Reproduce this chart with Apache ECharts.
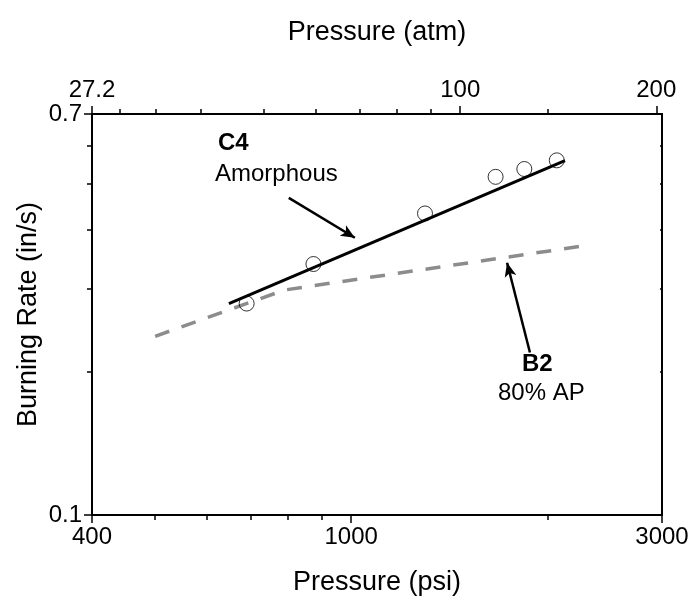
<!DOCTYPE html>
<html>
<head>
<meta charset="utf-8">
<script src="https://cdn.jsdelivr.net/npm/echarts@6/dist/echarts.min.js"></script>
<style>
  html, body { margin: 0; padding: 0; background: #fff; }
  #main { width: 693px; height: 607px; }
</style>
</head>
<body>
<div id="main"></div>
<script>
// C4 amorphous: measured points (psi, in/s)
var c4Psi = [691, 875, 1298, 1666, 1844, 2068];
var c4Rate = [0.279, 0.338, 0.432, 0.516, 0.536, 0.559];
// C4 fit line ends
var fitPsi = [649, 2129];
var fitRate = [0.279, 0.558];
// B2 80% AP dashed curve
var b2Psi = [500, 790, 2300];
var b2Rate = [0.238, 0.298, 0.37];

// axis ticks
var psiMajor = [400, 1000, 3000];
var psiMinor = [500, 600, 700, 800, 900, 2000];
var atmMajor = [27.2, 100, 200];
var atmMinor = [30, 34.02, 40, 50, 60, 70, 80, 90, 136.1];
var rateMajor = [0.1, 0.7];
var rateMinor = [0.2, 0.3, 0.4, 0.5, 0.6];

// top axis range = bottom range in atm
var atmMin = 27.2, atmMax = 204.1;

function zip(a, b) {
  return a.map(function (v, i) { return [v, b[i]]; });
}

var myChart = echarts.init(document.getElementById("main"));

var font = "Liberation Sans, Arial, sans-serif";
var lineBlack = { show: true, lineStyle: { color: "#000", width: 2 } };
var tickStyle = { color: "#000", width: 1.5 };
var labelStyle = { fontSize: 24, color: "#000", fontFamily: font };
var nameStyle = { fontSize: 27, color: "#000", fontFamily: font };

var option = {
  animation: false,
  grid: { left: 92, right: 31, top: 114, bottom: 92 },
  xAxis: [
    {
      // bottom, major ticks + labels
      type: "log", position: "bottom", min: 400, max: 3000,
      axisLine: lineBlack,
      splitLine: { show: false },
      axisTick: { show: true, length: 8, customValues: psiMajor, lineStyle: tickStyle },
      axisLabel: Object.assign({ customValues: psiMajor, margin: 10, formatter: function (v) { return String(v); } }, labelStyle),
      name: "Pressure (psi)", nameLocation: "middle", nameGap: 54,
      nameTextStyle: nameStyle
    },
    {
      // bottom, minor ticks
      type: "log", position: "bottom", min: 400, max: 3000,
      axisLine: { show: false },
      splitLine: { show: false },
      axisTick: { show: true, length: 5, customValues: psiMinor, lineStyle: tickStyle },
      axisLabel: { show: false }
    },
    {
      // top, atm major
      type: "log", position: "top", min: atmMin, max: atmMax,
      axisLine: lineBlack,
      splitLine: { show: false },
      axisTick: { show: true, length: 8, customValues: atmMajor, lineStyle: tickStyle },
      axisLabel: Object.assign({
        customValues: atmMajor, margin: 12,
        formatter: function (v) { return v < 30 ? "27.2" : String(Math.round(v)); }
      }, labelStyle),
      name: "Pressure (atm)", nameLocation: "middle", nameGap: 68,
      nameTextStyle: nameStyle
    },
    {
      // top, atm minor
      type: "log", position: "top", min: atmMin, max: atmMax,
      axisLine: { show: false },
      splitLine: { show: false },
      axisTick: { show: true, length: 5, customValues: atmMinor, lineStyle: tickStyle },
      axisLabel: { show: false }
    }
  ],
  yAxis: [
    {
      type: "log", position: "left", min: 0.1, max: 0.7,
      axisLine: lineBlack,
      splitLine: { show: false },
      axisTick: { show: true, length: 8, customValues: rateMajor, lineStyle: tickStyle },
      axisLabel: Object.assign({ customValues: rateMajor, margin: 10 }, labelStyle),
      name: "Burning Rate (in/s)", nameLocation: "middle", nameGap: 50, nameRotate: 90,
      nameMoveOverlap: false,
      nameTextStyle: nameStyle
    },
    {
      type: "log", position: "left", min: 0.1, max: 0.7,
      axisLine: { show: false },
      splitLine: { show: false },
      axisTick: { show: true, length: 5, customValues: rateMinor, lineStyle: tickStyle },
      axisLabel: { show: false }
    },
    {
      // right side frame
      type: "log", position: "right", min: 0.1, max: 0.7,
      axisLine: lineBlack,
      splitLine: { show: false },
      axisTick: { show: true, inside: true, length: 2, customValues: rateMinor, lineStyle: tickStyle },
      axisLabel: { show: false }
    }
  ],
  series: [
    {
      name: "B2",
      type: "line",
      xAxisIndex: 0, yAxisIndex: 0,
      data: zip(b2Psi, b2Rate),
      showSymbol: false,
      lineStyle: { color: "#8c8c8c", width: 3.5, type: [15, 13] },
      z: 2,
      markLine: {
        silent: true,
        symbol: ["none", "arrow"],
        symbolSize: [9, 14],
        label: { show: false },
        lineStyle: { color: "#000", width: 2.5, type: "solid" },
        data: [[{ coord: [1881, 0.22] }, { coord: [1735, 0.34] }]]
      }
    },
    {
      name: "C4 fit",
      type: "line",
      xAxisIndex: 0, yAxisIndex: 0,
      data: zip(fitPsi, fitRate),
      showSymbol: false,
      lineStyle: { color: "#000", width: 3 },
      z: 3,
      markLine: {
        silent: true,
        symbol: ["none", "arrow"],
        symbolSize: [9, 14],
        label: { show: false },
        lineStyle: { color: "#000", width: 2.5, type: "solid" },
        data: [[{ coord: [802, 0.466] }, { coord: [1013, 0.384] }]]
      }
    },
    {
      name: "C4",
      type: "scatter",
      xAxisIndex: 0, yAxisIndex: 0,
      data: zip(c4Psi, c4Rate),
      symbol: "circle",
      symbolSize: 15,
      itemStyle: { color: "rgba(0,0,0,0)", borderColor: "#000", borderWidth: 1 },
      z: 4
    }
  ],
  graphic: [
    { type: "text", left: 218, top: 131, style: { text: "C4", font: "bold 24px " + font, fill: "#000" } },
    { type: "text", left: 215, top: 162, style: { text: "Amorphous", font: "24px " + font, fill: "#000" } },
    { type: "text", left: 522, top: 352, style: { text: "B2", font: "bold 24px " + font, fill: "#000" } },
    { type: "text", left: 498, top: 381, style: { text: "80% AP", font: "24px " + font, fill: "#000" } }
  ]
};

myChart.setOption(option);
</script>
</body>
</html>
